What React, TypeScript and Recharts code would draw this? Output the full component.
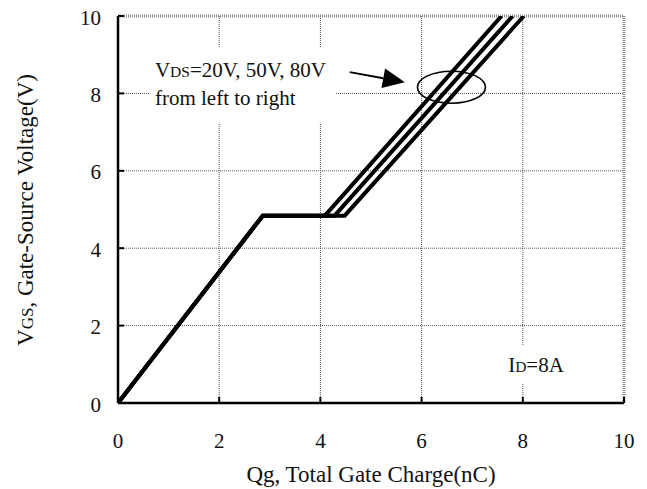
import React from 'react';
import { LineChart, Line, XAxis, YAxis, CartesianGrid, ReferenceArea, ReferenceDot, ReferenceLine, Label } from 'recharts';

// Total gate charge Qg (nC) at each vertex, per drain-source voltage
const qgVds20 = [0, 2.86, 4.09, 7.58];
const qgVds50 = [0, 2.86, 4.28, 7.8];
const qgVds80 = [0, 2.86, 4.48, 8.02];
// Gate-source voltage VGS (V) at the same vertices
const vgsValues = [0, 4.84, 4.84, 10];

const xTicks = [0, 2, 4, 6, 8, 10];
const yTicks = [0, 2, 4, 6, 8, 10];

const toSeries = (qg: number[]) => qg.map((q, i) => ({ qg: q, vgs: vgsValues[i] }));
const series20 = toSeries(qgVds20);
const series50 = toSeries(qgVds50);
const series80 = toSeries(qgVds80);

const FONT = 'Liberation Serif';
const TXT = '#111';

const XTick = (props: any) => {
  const { x, y, payload } = props;
  return (
    <g>
      {payload.value !== 0 && (
        <line x1={x} x2={x} y1={y} y2={y - 6} stroke="#000" strokeWidth={2} />
      )}
      <text x={x} y={y + 45} textAnchor="middle" style={{ fontFamily: FONT, fontSize: 21 }} fill={TXT}>
        {payload.value}
      </text>
    </g>
  );
};

const YTick = (props: any) => {
  const { y, payload } = props;
  return (
    <g>
      {payload.value !== 0 && (
        <line x1={118} x2={124} y1={y} y2={y} stroke="#000" strokeWidth={2} />
      )}
      <text x={101} y={y + 8.5} textAnchor="end" style={{ fontFamily: FONT, fontSize: 21 }} fill={TXT}>
        {payload.value}
      </text>
    </g>
  );
};

const ArrowShape = (p: any) => {
  const { x1, y1, x2, y2 } = p;
  const ang = Math.atan2(y2 - y1, x2 - x1);
  const len = 22;
  const hw = 10;
  const bx = x2 - len * Math.cos(ang);
  const by = y2 - len * Math.sin(ang);
  const px = -Math.sin(ang) * hw;
  const py = Math.cos(ang) * hw;
  return (
    <g>
      <line x1={x1} y1={y1} x2={bx} y2={by} stroke="#000" strokeWidth={2} />
      <polygon points={`${x2},${y2} ${bx + px},${by + py} ${bx - px},${by - py}`} fill="#000" />
    </g>
  );
};

export default function App() {
  return (
    <div style={{ position: 'absolute', left: 0, top: 0, background: '#fff' }}>
      <LineChart width={647} height={489} margin={{ top: 16, right: 23, bottom: 0, left: 0 }}>
        <CartesianGrid stroke="#555" strokeDasharray="1 1" strokeWidth={1} />
        <XAxis
          type="number"
          dataKey="qg"
          domain={[0, 10]}
          ticks={xTicks}
          allowDataOverflow
          height={86}
          tickSize={0}
          tickMargin={0}
          tickLine={false}
          tick={<XTick />}
          axisLine={{ stroke: '#000', strokeWidth: 2.5 }}
        >
          <Label
            position="insideBottom"
            content={(props: any) => {
              const vb = props.viewBox;
              const cx = vb.x + vb.width / 2;
              return (
                <text x={cx} y={482} textAnchor="middle" style={{ fontFamily: FONT, fontSize: 23 }} fill={TXT}>
                  Qg, Total Gate Charge(nC)
                </text>
              );
            }}
          />
        </XAxis>
        <YAxis
          type="number"
          dataKey="vgs"
          domain={[0, 10]}
          ticks={yTicks}
          allowDataOverflow
          width={118}
          tickSize={0}
          tickMargin={0}
          tickLine={false}
          tick={<YTick />}
          axisLine={{ stroke: '#000', strokeWidth: 2.5 }}
        >
          <Label
            position="insideLeft"
            content={(props: any) => {
              const vb = props.viewBox;
              const cy = vb.y + vb.height / 2 + 0.5;
              return (
                <text
                  x={33}
                  y={cy}
                  transform={`rotate(-90 33 ${cy})`}
                  textAnchor="middle"
                  style={{ fontFamily: FONT, fontSize: 23 }}
                  fill={TXT}
                >
                  V<tspan style={{ fontSize: 17 }}>GS</tspan>, Gate-Source Voltage(V)
                </text>
              );
            }}
          />
        </YAxis>

        <ReferenceLine y={10} stroke="#8a8a8a" strokeWidth={3} strokeDasharray="1 1" />
        <ReferenceLine x={10} stroke="#8a8a8a" strokeWidth={3} strokeDasharray="1 1" />

        <ReferenceArea x1={0.63} x2={4.3} y1={7.24} y2={9.2} fill="#fff" fillOpacity={1} stroke="none" />
        <ReferenceArea x1={7.55} x2={8.95} y1={0.52} y2={1.5} fill="#fff" fillOpacity={1} stroke="none" />

        <ReferenceDot
          x={0.73}
          y={8.43}
          r={0}
          shape={(p: any) => (
            <text x={p.cx} y={p.cy} style={{ fontFamily: FONT, fontSize: 21 }} fill={TXT}>
              V<tspan style={{ fontSize: 15.5 }}>DS</tspan><tspan>=20V, 50V, 80V</tspan>
              <tspan x={p.cx} dy={28}>from left to right</tspan>
            </text>
          )}
        />
        <ReferenceDot
          x={7.71}
          y={0.8}
          r={0}
          shape={(p: any) => (
            <text x={p.cx} y={p.cy} style={{ fontFamily: FONT, fontSize: 21 }} fill={TXT}>
              I<tspan style={{ fontSize: 15.5 }}>D</tspan><tspan>=8A</tspan>
            </text>
          )}
        />
        <ReferenceDot
          x={6.59}
          y={8.16}
          r={0}
          shape={(p: any) => (
            <ellipse cx={p.cx} cy={p.cy} rx={34} ry={16} fill="none" stroke="#000" strokeWidth={1.6} />
          )}
        />
        <ReferenceLine
          segment={[{ x: 4.58, y: 8.55 }, { x: 5.67, y: 8.29 }]}
          shape={ArrowShape}
        />

        <Line data={series20} dataKey="vgs" type="linear" stroke="#000" strokeWidth={4} dot={false} isAnimationActive={false} />
        <Line data={series50} dataKey="vgs" type="linear" stroke="#000" strokeWidth={4} dot={false} isAnimationActive={false} />
        <Line data={series80} dataKey="vgs" type="linear" stroke="#000" strokeWidth={4} dot={false} isAnimationActive={false} />
      </LineChart>
    </div>
  );
}
